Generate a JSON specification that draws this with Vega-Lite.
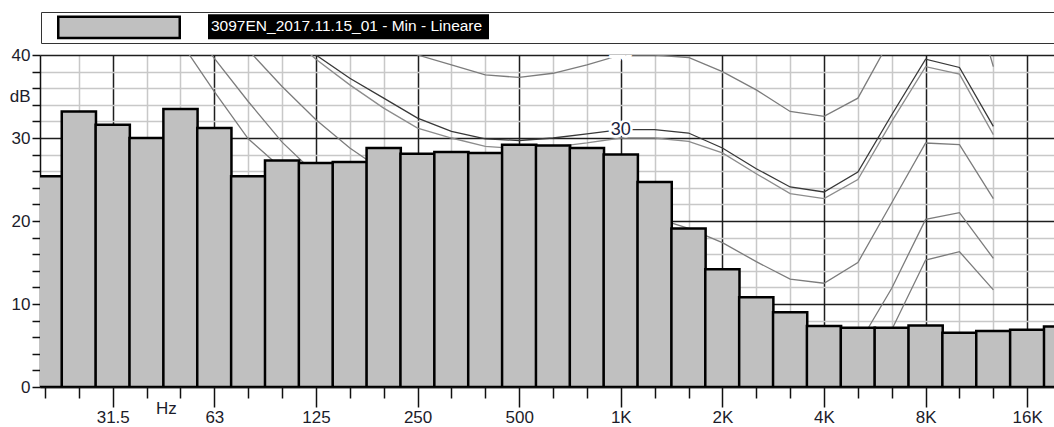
{
  "$schema": "https://vega.github.io/schema/vega-lite/v6.json",
  "width": 1014,
  "height": 332,
  "autosize": {"type": "none"},
  "padding": {"left": 40, "top": 55, "right": 0, "bottom": 40},
  "background": "#ffffff",
  "config": {
    "view": {"stroke": null},
    "font": "Liberation Sans, Arial, sans-serif",
    "axis": {
      "domainColor": "#111111",
      "domainWidth": 1.5,
      "tickColor": "#111111",
      "tickWidth": 1.5,
      "labelFont": "Liberation Sans, Arial, sans-serif",
      "labelFontSize": 17,
      "labelColor": "#1c1c2a",
      "gridWidth": 1.5,
      "title": null
    }
  },
  "datasets": {
    "bands": [
      {"band": 0, "freq": "20", "db": 25.4, "series": "3097EN_2017.11.15_01 - Min - Lineare"},
      {"band": 1, "freq": "25", "db": 33.2, "series": "3097EN_2017.11.15_01 - Min - Lineare"},
      {"band": 2, "freq": "31.5", "db": 31.6, "series": "3097EN_2017.11.15_01 - Min - Lineare"},
      {"band": 3, "freq": "40", "db": 30.0, "series": "3097EN_2017.11.15_01 - Min - Lineare"},
      {"band": 4, "freq": "50", "db": 33.5, "series": "3097EN_2017.11.15_01 - Min - Lineare"},
      {"band": 5, "freq": "63", "db": 31.2, "series": "3097EN_2017.11.15_01 - Min - Lineare"},
      {"band": 6, "freq": "80", "db": 25.4, "series": "3097EN_2017.11.15_01 - Min - Lineare"},
      {"band": 7, "freq": "100", "db": 27.3, "series": "3097EN_2017.11.15_01 - Min - Lineare"},
      {"band": 8, "freq": "125", "db": 27.0, "series": "3097EN_2017.11.15_01 - Min - Lineare"},
      {"band": 9, "freq": "160", "db": 27.1, "series": "3097EN_2017.11.15_01 - Min - Lineare"},
      {"band": 10, "freq": "200", "db": 28.8, "series": "3097EN_2017.11.15_01 - Min - Lineare"},
      {"band": 11, "freq": "250", "db": 28.1, "series": "3097EN_2017.11.15_01 - Min - Lineare"},
      {"band": 12, "freq": "315", "db": 28.3, "series": "3097EN_2017.11.15_01 - Min - Lineare"},
      {"band": 13, "freq": "400", "db": 28.2, "series": "3097EN_2017.11.15_01 - Min - Lineare"},
      {"band": 14, "freq": "500", "db": 29.2, "series": "3097EN_2017.11.15_01 - Min - Lineare"},
      {"band": 15, "freq": "630", "db": 29.1, "series": "3097EN_2017.11.15_01 - Min - Lineare"},
      {"band": 16, "freq": "800", "db": 28.8, "series": "3097EN_2017.11.15_01 - Min - Lineare"},
      {"band": 17, "freq": "1000", "db": 28.0, "series": "3097EN_2017.11.15_01 - Min - Lineare"},
      {"band": 18, "freq": "1250", "db": 24.7, "series": "3097EN_2017.11.15_01 - Min - Lineare"},
      {"band": 19, "freq": "1600", "db": 19.1, "series": "3097EN_2017.11.15_01 - Min - Lineare"},
      {"band": 20, "freq": "2000", "db": 14.2, "series": "3097EN_2017.11.15_01 - Min - Lineare"},
      {"band": 21, "freq": "2500", "db": 10.8, "series": "3097EN_2017.11.15_01 - Min - Lineare"},
      {"band": 22, "freq": "3150", "db": 9.0, "series": "3097EN_2017.11.15_01 - Min - Lineare"},
      {"band": 23, "freq": "4000", "db": 7.35, "series": "3097EN_2017.11.15_01 - Min - Lineare"},
      {"band": 24, "freq": "5000", "db": 7.15, "series": "3097EN_2017.11.15_01 - Min - Lineare"},
      {"band": 25, "freq": "6300", "db": 7.15, "series": "3097EN_2017.11.15_01 - Min - Lineare"},
      {"band": 26, "freq": "8000", "db": 7.4, "series": "3097EN_2017.11.15_01 - Min - Lineare"},
      {"band": 27, "freq": "10000", "db": 6.55, "series": "3097EN_2017.11.15_01 - Min - Lineare"},
      {"band": 28, "freq": "12500", "db": 6.75, "series": "3097EN_2017.11.15_01 - Min - Lineare"},
      {"band": 29, "freq": "16000", "db": 6.9, "series": "3097EN_2017.11.15_01 - Min - Lineare"},
      {"band": 30, "freq": "20000", "db": 7.3, "series": "3097EN_2017.11.15_01 - Min - Lineare"}
    ],
    "curves": [
      {"curve": "c40", "band": 10, "db": 43.0}, {"curve": "c40", "band": 11, "db": 40.0}, {"curve": "c40", "band": 12, "db": 38.8}, {"curve": "c40", "band": 13, "db": 37.6}, {"curve": "c40", "band": 14, "db": 37.3}, {"curve": "c40", "band": 15, "db": 37.8}, {"curve": "c40", "band": 16, "db": 38.8}, {"curve": "c40", "band": 17, "db": 40.0}, {"curve": "c40", "band": 18, "db": 40.0}, {"curve": "c40", "band": 19, "db": 39.7}, {"curve": "c40", "band": 20, "db": 38.0}, {"curve": "c40", "band": 21, "db": 35.8}, {"curve": "c40", "band": 22, "db": 33.2}, {"curve": "c40", "band": 23, "db": 32.6}, {"curve": "c40", "band": 24, "db": 34.8}, {"curve": "c40", "band": 25, "db": 42.2}, {"curve": "c40", "band": 26, "db": 49.5}, {"curve": "c40", "band": 27, "db": 52.5}, {"curve": "c40", "band": 28, "db": 38.6},
      {"curve": "c30a", "band": 7, "db": 43.6}, {"curve": "c30a", "band": 8, "db": 40.0}, {"curve": "c30a", "band": 9, "db": 37.2}, {"curve": "c30a", "band": 10, "db": 34.8}, {"curve": "c30a", "band": 11, "db": 32.4}, {"curve": "c30a", "band": 12, "db": 30.8}, {"curve": "c30a", "band": 13, "db": 29.9}, {"curve": "c30a", "band": 14, "db": 29.7}, {"curve": "c30a", "band": 15, "db": 30.0}, {"curve": "c30a", "band": 16, "db": 30.5}, {"curve": "c30a", "band": 17, "db": 31.0}, {"curve": "c30a", "band": 18, "db": 31.0}, {"curve": "c30a", "band": 19, "db": 30.6}, {"curve": "c30a", "band": 20, "db": 28.8}, {"curve": "c30a", "band": 21, "db": 26.3}, {"curve": "c30a", "band": 22, "db": 24.1}, {"curve": "c30a", "band": 23, "db": 23.5}, {"curve": "c30a", "band": 24, "db": 25.9}, {"curve": "c30a", "band": 25, "db": 32.8}, {"curve": "c30a", "band": 26, "db": 39.5}, {"curve": "c30a", "band": 27, "db": 38.5}, {"curve": "c30a", "band": 28, "db": 31.4},
      {"curve": "c30b", "band": 7, "db": 43.0}, {"curve": "c30b", "band": 8, "db": 39.5}, {"curve": "c30b", "band": 9, "db": 36.4}, {"curve": "c30b", "band": 10, "db": 33.6}, {"curve": "c30b", "band": 11, "db": 31.2}, {"curve": "c30b", "band": 12, "db": 30.0}, {"curve": "c30b", "band": 13, "db": 29.0}, {"curve": "c30b", "band": 14, "db": 28.7}, {"curve": "c30b", "band": 15, "db": 28.9}, {"curve": "c30b", "band": 16, "db": 29.4}, {"curve": "c30b", "band": 17, "db": 30.0}, {"curve": "c30b", "band": 18, "db": 30.0}, {"curve": "c30b", "band": 19, "db": 29.6}, {"curve": "c30b", "band": 20, "db": 28.2}, {"curve": "c30b", "band": 21, "db": 25.7}, {"curve": "c30b", "band": 22, "db": 23.3}, {"curve": "c30b", "band": 23, "db": 22.7}, {"curve": "c30b", "band": 24, "db": 25.0}, {"curve": "c30b", "band": 25, "db": 32.0}, {"curve": "c30b", "band": 26, "db": 38.6}, {"curve": "c30b", "band": 27, "db": 37.7}, {"curve": "c30b", "band": 28, "db": 30.4},
      {"curve": "c20", "band": 5, "db": 44.8}, {"curve": "c20", "band": 6, "db": 40.6}, {"curve": "c20", "band": 7, "db": 36.2}, {"curve": "c20", "band": 8, "db": 32.2}, {"curve": "c20", "band": 9, "db": 28.8}, {"curve": "c20", "band": 10, "db": 26.0}, {"curve": "c20", "band": 11, "db": 24.5}, {"curve": "c20", "band": 12, "db": 23.4}, {"curve": "c20", "band": 13, "db": 22.5}, {"curve": "c20", "band": 14, "db": 21.7}, {"curve": "c20", "band": 15, "db": 21.2}, {"curve": "c20", "band": 16, "db": 20.9}, {"curve": "c20", "band": 17, "db": 20.7}, {"curve": "c20", "band": 18, "db": 20.4}, {"curve": "c20", "band": 19, "db": 19.1}, {"curve": "c20", "band": 20, "db": 17.4}, {"curve": "c20", "band": 21, "db": 15.1}, {"curve": "c20", "band": 22, "db": 13.0}, {"curve": "c20", "band": 23, "db": 12.5}, {"curve": "c20", "band": 24, "db": 15.0}, {"curve": "c20", "band": 25, "db": 22.2}, {"curve": "c20", "band": 26, "db": 29.4}, {"curve": "c20", "band": 27, "db": 29.2}, {"curve": "c20", "band": 28, "db": 22.7},
      {"curve": "c10", "band": 4, "db": 45.0}, {"curve": "c10", "band": 5, "db": 39.6}, {"curve": "c10", "band": 6, "db": 34.4}, {"curve": "c10", "band": 7, "db": 29.5}, {"curve": "c10", "band": 8, "db": 25.6}, {"curve": "c10", "band": 9, "db": 22.5}, {"curve": "c10", "band": 10, "db": 20.0}, {"curve": "c10", "band": 11, "db": 18.0}, {"curve": "c10", "band": 12, "db": 16.3}, {"curve": "c10", "band": 13, "db": 14.8}, {"curve": "c10", "band": 14, "db": 13.6}, {"curve": "c10", "band": 15, "db": 12.6}, {"curve": "c10", "band": 16, "db": 11.8}, {"curve": "c10", "band": 17, "db": 11.2}, {"curve": "c10", "band": 18, "db": 10.6}, {"curve": "c10", "band": 19, "db": 9.6}, {"curve": "c10", "band": 20, "db": 7.8}, {"curve": "c10", "band": 21, "db": 5.8}, {"curve": "c10", "band": 22, "db": 4.2}, {"curve": "c10", "band": 23, "db": 3.6}, {"curve": "c10", "band": 24, "db": 5.0}, {"curve": "c10", "band": 25, "db": 11.9}, {"curve": "c10", "band": 26, "db": 20.2}, {"curve": "c10", "band": 27, "db": 21.0}, {"curve": "c10", "band": 28, "db": 15.5},
      {"curve": "c0", "band": 3, "db": 47.5}, {"curve": "c0", "band": 4, "db": 41.6}, {"curve": "c0", "band": 5, "db": 35.6}, {"curve": "c0", "band": 6, "db": 29.9}, {"curve": "c0", "band": 7, "db": 26.3}, {"curve": "c0", "band": 8, "db": 22.5}, {"curve": "c0", "band": 9, "db": 19.5}, {"curve": "c0", "band": 10, "db": 16.5}, {"curve": "c0", "band": 11, "db": 14.0}, {"curve": "c0", "band": 12, "db": 12.0}, {"curve": "c0", "band": 13, "db": 10.2}, {"curve": "c0", "band": 14, "db": 8.8}, {"curve": "c0", "band": 15, "db": 7.6}, {"curve": "c0", "band": 16, "db": 6.6}, {"curve": "c0", "band": 17, "db": 5.8}, {"curve": "c0", "band": 18, "db": 5.0}, {"curve": "c0", "band": 19, "db": 3.8}, {"curve": "c0", "band": 20, "db": 2.4}, {"curve": "c0", "band": 21, "db": 1.2}, {"curve": "c0", "band": 22, "db": 0.5}, {"curve": "c0", "band": 23, "db": 0.4}, {"curve": "c0", "band": 24, "db": 2.0}, {"curve": "c0", "band": 25, "db": 6.9}, {"curve": "c0", "band": 26, "db": 15.3}, {"curve": "c0", "band": 27, "db": 16.3}, {"curve": "c0", "band": 28, "db": 11.7}
    ],
    "curveLabels": [
      {"band": 17, "db": 31.0, "text": "30"}
    ],
    "hiddenLabels": [
      {"band": 17, "db": 40.0, "text": "40"}
    ]
  },
  "layer": [
    {
      "data": {"name": "curves"},
      "mark": {"type": "line", "clip": true, "strokeWidth": 1.3, "interpolate": "linear"},
      "encoding": {
        "x": {
          "field": "band",
          "type": "quantitative",
          "scale": {"domain": [0, 29.643], "nice": false, "zero": false},
          "axis": {
            "values": [0, 1, 2, 3, 4, 5, 6, 7, 8, 9, 10, 11, 12, 13, 14, 15, 16, 17, 18, 19, 20, 21, 22, 23, 24, 25, 26, 27, 28, 29, 3.57],
            "tickCount": 200,
            "labelExpr": "datum.value == 2 ? '31.5' : datum.value == 5 ? '63' : datum.value == 8 ? '125' : datum.value == 11 ? '250' : datum.value == 14 ? '500' : datum.value == 17 ? '1K' : datum.value == 20 ? '2K' : datum.value == 23 ? '4K' : datum.value == 26 ? '8K' : datum.value == 29 ? '16K' : datum.value == 3.57 ? 'Hz' : ''",
            "labelOverlap": false,
            "labelFlush": false,
            "labelBound": false,
            "labelPadding": 2,
            "labelBaseline": "top",
            "tickSize": {"condition": {"test": "indexof([2,5,8,11,14,17,20,23,26,29], datum.value) >= 0", "value": 20}, "value": 11},
            "tickOpacity": {"condition": {"test": "datum.value == 3.57", "value": 0}, "value": 1},
            "grid": true,
            "gridColor": {"condition": {"test": "indexof([2,5,8,11,14,17,20,23,26,29], datum.value) >= 0", "value": "#1e1e1e"}, "value": "#c8c8c8"},
            "gridOpacity": {"condition": {"test": "datum.value == 3.57 || datum.value == 0", "value": 0}, "value": 1}
          }
        },
        "y": {
          "field": "db",
          "type": "quantitative",
          "scale": {"domain": [0, 40], "nice": false, "zero": true},
          "axis": {
            "values": [0, 2, 4, 6, 8, 10, 12, 14, 16, 18, 20, 22, 24, 26, 28, 30, 32, 34, 36, 38, 40, 35],
            "tickCount": 200,
            "labelExpr": "datum.value == 35 ? 'dB' : (datum.value % 10 == 0 ? format(datum.value, 'd') : '')",
            "labelOverlap": false,
            "labelFlush": false,
            "labelBound": false,
            "labelPadding": 2,
            "tickSize": 8,
            "tickOpacity": {"condition": {"test": "datum.value == 35", "value": 0}, "value": 1},
            "grid": true,
            "gridColor": {"condition": {"test": "datum.value % 10 == 0", "value": "#1e1e1e"}, "value": "#c8c8c8"},
            "gridOpacity": {"condition": {"test": "datum.value == 35", "value": 0}, "value": 1}
          }
        },
        "color": {
          "field": "curve",
          "type": "nominal",
          "scale": {"domain": ["c40", "c30a", "c30b", "c20", "c10", "c0"], "range": ["#7c7c7c", "#383838", "#8c8c8c", "#7c7c7c", "#7c7c7c", "#7c7c7c"]},
          "legend": null
        },
        "detail": {"field": "curve"}
      }
    },
    {
      "data": {"name": "bands"},
      "mark": {"type": "bar", "clip": true, "width": 34.207, "stroke": "#000000", "strokeWidth": 2.5, "opacity": 1},
      "encoding": {
        "x": {"field": "band", "type": "quantitative"},
        "y": {"field": "db", "type": "quantitative"},
        "fill": {
          "field": "series",
          "type": "nominal",
          "scale": {"range": ["#c0c0c0"]},
          "legend": {
            "title": null,
            "orient": "none",
            "legendX": 1,
            "legendY": -43,
            "padding": 0,
            "strokeColor": "#333333",
            "fillColor": "#ffffff",
            "symbolType": "M0.26,-0.74H9.98V0.96H0.26Z M12.24,-0.84H34.72 M12.24,-0.68H34.72 M12.24,-0.52H34.72 M12.24,-0.36H34.72 M12.24,-0.2H34.72 M12.24,-0.04H34.72 M12.24,0.12H34.72 M12.24,0.28H34.72 M12.24,0.44H34.72 M12.24,0.6H34.72 M12.24,0.76H34.72 M12.24,0.92H34.72 M12.24,0.96H34.72 M81.2,0V0.2",
            "symbolSize": 625,
            "symbolStrokeColor": "#000000",
            "symbolStrokeWidth": 2.5,
            "symbolOpacity": 1,
            "symbolOffset": 0,
            "labelColor": "#ffffff",
            "labelFont": "Liberation Sans, Arial, sans-serif",
            "labelFontSize": 15.5,
            "labelLimit": 0,
            "labelOffset": 142
          }
        }
      }
    },
    {
      "data": {"name": "hiddenLabels"},
      "mark": {"type": "text", "clip": true, "fill": "#ffffff", "stroke": "#ffffff", "strokeWidth": 4, "fontSize": 18, "baseline": "alphabetic", "dy": 4},
      "encoding": {
        "x": {"field": "band", "type": "quantitative"},
        "y": {"field": "db", "type": "quantitative"},
        "text": {"field": "text"}
      }
    },
    {
      "data": {"name": "curveLabels"},
      "mark": {"type": "text", "fill": "#ffffff", "stroke": "#ffffff", "strokeWidth": 5, "fontSize": 18, "baseline": "middle"},
      "encoding": {
        "x": {"field": "band", "type": "quantitative"},
        "y": {"field": "db", "type": "quantitative"},
        "text": {"field": "text"}
      }
    },
    {
      "data": {"name": "curveLabels"},
      "mark": {"type": "text", "fill": "#1c2340", "fontSize": 18, "baseline": "middle"},
      "encoding": {
        "x": {"field": "band", "type": "quantitative"},
        "y": {"field": "db", "type": "quantitative"},
        "text": {"field": "text"}
      }
    }
  ]
}
